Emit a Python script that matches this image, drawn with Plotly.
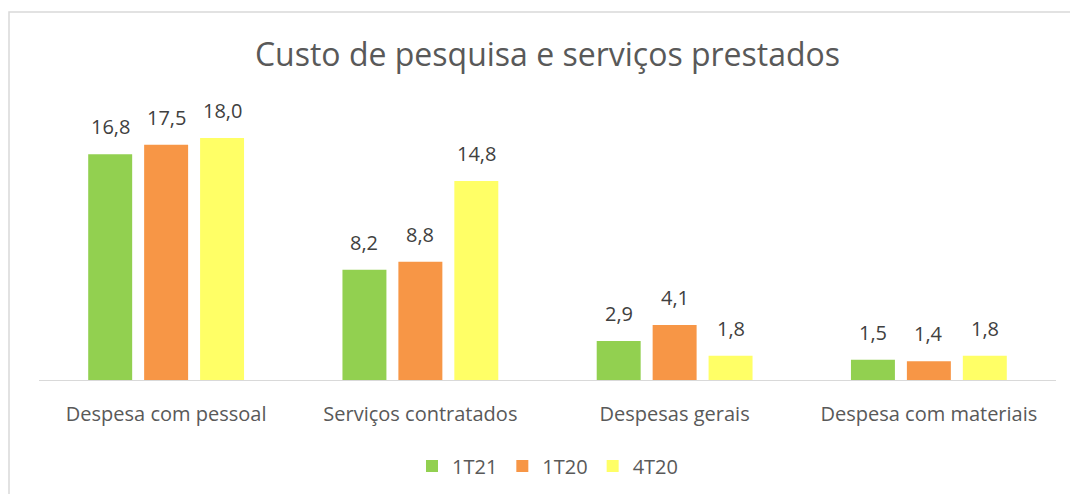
import plotly.graph_objects as go

categories = ["Despesa com pessoal", "Serviços contratados", "Despesas gerais", "Despesa com materiais"]
series_names = ["1T21", "1T20", "4T20"]
v_1t21 = [16.8, 8.2, 2.9, 1.5]
v_1t20 = [17.5, 8.8, 4.1, 1.4]
v_4t20 = [18.0, 14.8, 1.8, 1.8]
colors = ["#92D050", "#F79646", "#FFFF66"]

FONT = "Open Sans"
PLOT_H = 494 - 111 - 114
PX_PER_UNIT = 13.44
SLOT_PX = 56

fig = go.Figure()
annotations = []
for i, (name, vals, col) in enumerate(zip(series_names, [v_1t21, v_1t20, v_4t20], colors)):
    fig.add_trace(go.Bar(
        x=categories, y=vals, name=name, marker_color=col, marker_line_width=0,
    ))
    for c, v in zip(categories, vals):
        annotations.append(dict(
            x=c, y=v, xref="x", yref="y", text=f"{v:.1f}".replace(".", ","),
            showarrow=False, yanchor="bottom", xanchor="center",
            xshift=(i - 1) * SLOT_PX, yshift=12,
            font=dict(family=FONT, size=20, color="#404040"),
        ))

fig.update_layout(
    width=1070, height=494,
    margin=dict(l=39, r=14, t=111, b=114),
    paper_bgcolor="white", plot_bgcolor="white",
    separators=",.",
    barmode="group", bargap=0.34, bargroupgap=0.214,
    title=dict(text="Custo de pesquisa e serviços prestados", x=0.5, xref="paper",
               y=1 - 55 / 494, yref="container", yanchor="middle",
               font=dict(family=FONT, size=32, color="#595959")),
    font=dict(family=FONT, color="#595959"),
    legend=dict(orientation="h", x=0.5, xanchor="center", xref="paper",
                y=1 - 466 / 494, yref="container", yanchor="middle",
                font=dict(family=FONT, size=20, color="#595959"), itemwidth=30,
                traceorder="normal"),
    xaxis=dict(showline=True, linecolor="#D9D9D9", linewidth=1, ticks="",
               tickfont=dict(family=FONT, size=20, color="#595959"),
               ticklabelstandoff=16, showgrid=False, automargin=False),
    yaxis=dict(range=[0, PLOT_H / PX_PER_UNIT], visible=False, showgrid=False),
    annotations=annotations,
    shapes=[dict(type="rect", xref="paper", yref="paper",
                 x0=(9 - 39) / 1017, x1=1.2, y0=-0.6, y1=(380 - 12) / PLOT_H,
                 line=dict(color="#D9D9D9", width=1.5), fillcolor="rgba(0,0,0,0)", layer="below")],
)

fig.write_html("out.html", config={"displayModeBar": False},
               post_script="document.body.style.margin='0';document.body.style.overflow='hidden';")
